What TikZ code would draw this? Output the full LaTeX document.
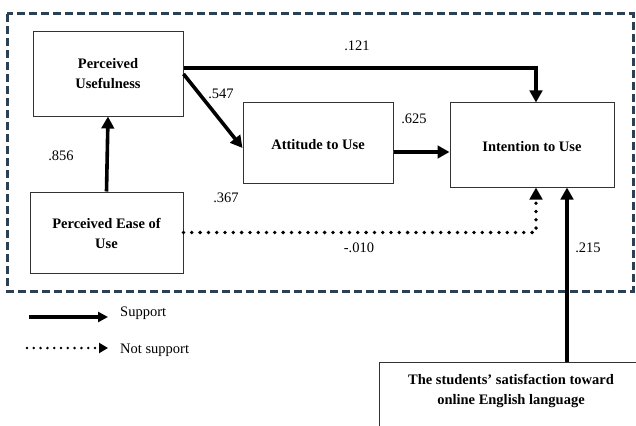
\documentclass[tikz,border=0pt]{standalone}
\usepackage{fontspec}
\setmainfont{Liberation Serif}
\usetikzlibrary{arrows.meta,calc}
\definecolor{framecol}{HTML}{2B3F55}
\definecolor{boxcol}{HTML}{333333}
\tikzset{
  box/.style={draw=boxcol,line width=1pt,fill=white,inner sep=0pt},
  btxt/.style={font=\fontsize{14.5}{20}\selectfont\bfseries,align=center,inner sep=0pt},
  num/.style={font=\fontsize{14.5}{17}\selectfont,inner sep=0pt},
  arr/.style={line width=3.6pt,-{Triangle[length=12pt,width=12.5pt]}},
  dotarr/.style={line width=3.8pt,line cap=round,dash pattern=on 0pt off 8.3pt,-{Triangle[length=12pt,width=12.5pt,line cap=butt]}},
  legarr/.style={line width=3.2pt,-{Triangle[length=10pt,width=10pt]}},
  legdot/.style={line width=2.8pt,line cap=round,dash pattern=on 0pt off 6.8pt,-{Triangle[length=9pt,width=10pt,line cap=butt]}},
  frame/.style={draw=framecol,line width=3pt,dash pattern=on 8pt off 4pt}
}
\begin{document}
\begin{tikzpicture}[x=1pt,y=-1pt]
\useasboundingbox (0,0) rectangle (636,425);
\clip (0,0) rectangle (636,425);
% frame
\draw[frame] (7,14) rectangle (633,291);
% boxes
\node[box,minimum width=150pt,minimum height=84pt] (pu) at (108,74) {};
\node[btxt] (putxt) at (108,74) {Perceived\\Usefulness};
\node[box,minimum width=153pt,minimum height=81pt] (peu) at (106.5,232.5) {};
\node[btxt] (peutxt) at (106.5,233) {Perceived Ease of\\Use};
\node[box,minimum width=150pt,minimum height=80pt] (att) at (318,143) {};
\node[btxt] (atttxt) at (318,145) {Attitude to Use};
\node[box,minimum width=164pt,minimum height=84pt] (int) at (532,145) {};
\node[btxt] (inttxt) at (532,147) {Intention to Use};
\node[box,minimum width=264pt,minimum height=90pt,anchor=north west] (sat) at (379,362) {};
\node[btxt] (sattxt) at (511,391) {The students' satisfaction toward\\online English language};
% helper coordinates
\coordinate (jx) at (536,0);
\coordinate (sx) at (567,0);
\coordinate (ay) at (0,152);
% connectors
\draw[arr] ([yshift=6pt]pu.east) -| (int.north -| jx);
\draw[arr] (pu.east) -- ([yshift=-5pt]att.west);
\draw[arr] (peu.north) -- (pu.south);
\draw[arr] (att.east |- ay) -- (int.west |- ay);
\draw[dotarr] (peu.east) -| (int.south -| jx);
\draw[arr] (sat.north -| sx) -- (int.south -| sx);
% labels
\node[num] (l121) at (357,46) {.121};
\node[num] (l547) at (221,94) {.547};
\node[num] (l856) at (61,156) {.856};
\node[num] (l367) at (226,198) {.367};
\node[num] (l625) at (414,119) {.625};
\node[num] (l010) at (359,248) {-.010};
\node[num] (l215) at (588,248) {.215};
% legend
\coordinate (s1) at (29,317);
\coordinate (s2) at (108,317);
\coordinate (n1) at (27,348);
\coordinate (n2) at (108,348);
\draw[legarr] (s1) -- (s2);
\draw[legdot] (n1) -- (n2);
\node[num,anchor=west] (lsup) at (120,313) {Support};
\node[num,anchor=west] (lnot) at (120,350) {Not support};
\end{tikzpicture}
\end{document}
